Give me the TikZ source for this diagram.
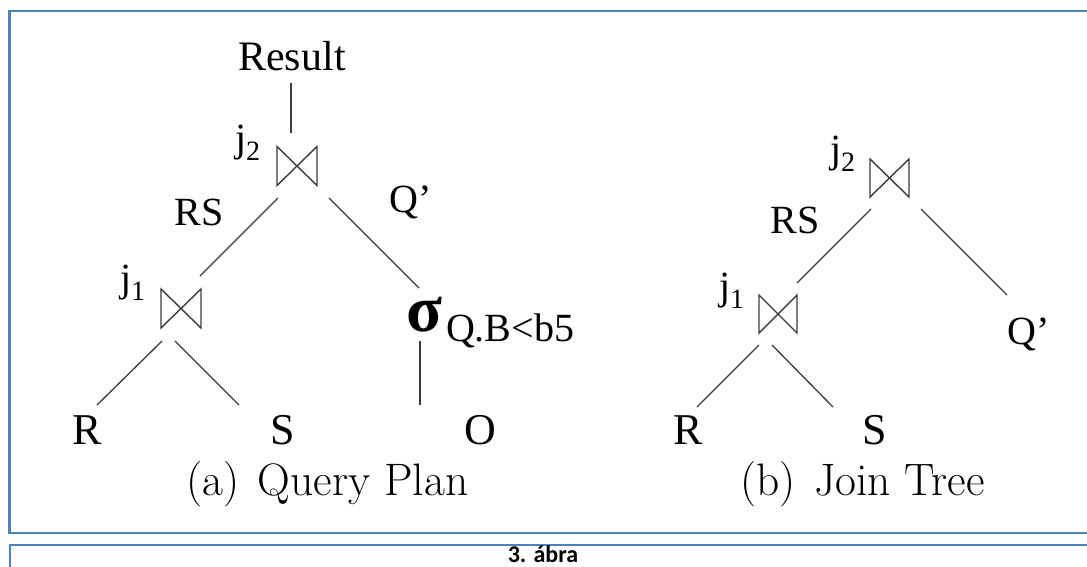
\documentclass[tikz,border=0pt]{standalone}
\usepackage{fontspec}
\newfontfamily\tmsfont{Liberation Serif}
\newfontfamily\calfont{Carlito}
\usetikzlibrary{calc}
\definecolor{boxblue}{RGB}{79,129,189}
\definecolor{edgegray}{RGB}{60,60,60}
\tikzset{
  lbl/.style={inner sep=0pt, outer sep=0pt, anchor=base, font=\tmsfont\fontsize{40}{40}\selectfont},
  leaf/.style={lbl, font=\tmsfont\fontsize{44}{44}\selectfont},
  jlbl/.style={inner sep=0pt, outer sep=0pt, anchor=base west, font=\tmsfont\fontsize{40}{40}\selectfont},
  capt/.style={inner sep=0pt, outer sep=0pt, anchor=base, font=\fontsize{45.5}{45.5}\selectfont},
  joinbox/.style={inner sep=0pt, outer sep=0pt, minimum width=40pt, minimum height=39pt},
  edge/.style={draw=edgegray, line width=1.3pt},
  tie/.style={draw=edgegray, line width=1.4pt, line join=miter},
  frame/.style={draw=boxblue, line width=2.2pt}
}
\newcommand{\jlab}[1]{j\raisebox{-9pt}{\fontsize{28}{28}\selectfont #1}}
\newcommand{\drawtie}[1]{\draw[tie] (#1.north west) -- (#1.south east) -- (#1.north east) -- (#1.south west) -- cycle;}
\begin{document}
\begin{tikzpicture}[x=1pt, y=-1pt]
\useasboundingbox (0,0) rectangle (1087,566);
\clip (0,0) rectangle (1087,566);
\fill[white] (0,0) rectangle (1087,566);
% frames
\draw[frame] (9.5,11) rectangle (1100,533);
\draw[frame] (10,545) rectangle (1100,600);
\node[inner sep=0pt, anchor=base, font=\calfont\bfseries\fontsize{24}{24}\selectfont] (fig) at (543,562) {3. ábra};

% ---------- (a) Query Plan ----------
\node[lbl, font=\tmsfont\fontsize{42}{42}\selectfont] (result) at (292,70) {Result};
\node[joinbox] (j2a) at (297,166) {};
\drawtie{j2a}
\node[jlbl] (j2alab) at (235,151) {\jlab{2}};
\node[joinbox] (j1a) at (181,308.5) {};
\drawtie{j1a}
\node[jlbl] (j1alab) at (120,291) {\jlab{1}};
\node[lbl] (rsa) at (199,225) {RS};
\node[lbl] (qa) at (411,212) {Q’};
\node[inner sep=0pt, outer sep=0pt, anchor=base, font=\tmsfont\bfseries\fontsize{66}{66}\selectfont] (sigma) at (424,331) {σ};
\node[inner sep=0pt, outer sep=0pt, anchor=base west, font=\tmsfont\fontsize{40}{40}\selectfont] (cond) at (446,341) {Q.B<b5};
\node[leaf] (R1) at (87,444) {R};
\node[leaf] (S1) at (283,444) {S};
\node[leaf] (O1) at (480,444) {O};
\draw[edge] ([xshift=-1pt,yshift=-13pt]result.base) -- ([xshift=-6pt,yshift=13.5pt]j2a.north);
\draw[edge] ([xshift=1pt,yshift=-12.5pt]j2a.south west) -- ([xshift=-1pt,yshift=13pt]j1a.north east);
\draw[edge] ([xshift=12pt,yshift=-12.5pt]j2a.south east) -- ([xshift=-5pt,yshift=43pt]sigma.base);
\draw[edge] ([xshift=-4pt,yshift=-10pt]sigma.base) -- ([xshift=-60pt,yshift=39pt]O1.base);
\draw[edge] ([xshift=-19pt,yshift=-13pt]j1a.south) -- ([xshift=10pt,yshift=39pt]R1.base);
\draw[edge] ([xshift=-6pt,yshift=-13pt]j1a.south) -- ([xshift=-44pt,yshift=39pt]S1.base);
\node[capt] (capa) at (327.5,495) {(a)\hspace{0.4em}Query Plan};

% ---------- (b) Join Tree ----------
\node[joinbox, minimum width=39pt, minimum height=38pt] (j2b) at (889.5,178) {};
\drawtie{j2b}
\node[jlbl] (j2blab) at (830,162) {\jlab{2}};
\node[joinbox, minimum width=38pt, minimum height=38pt] (j1b) at (778,314) {};
\drawtie{j1b}
\node[jlbl] (j1blab) at (719,299) {\jlab{1}};
\node[lbl] (rsb) at (795,233) {RS};
\node[lbl] (qb) at (1029,344) {Q’};
\node[leaf] (R2) at (688,444) {R};
\node[leaf] (S2) at (875,444) {S};
\draw[edge] ([xshift=1pt,yshift=-12pt]j2b.south west) -- ([yshift=12pt]j1b.north east);
\draw[edge] ([xshift=12pt,yshift=-12pt]j2b.south east) -- ([xshift=-22pt,yshift=49pt]qb.base);
\draw[edge] ([xshift=-19pt,yshift=-12pt]j1b.south) -- ([xshift=9pt,yshift=37pt]R2.base);
\draw[edge] ([xshift=-6pt,yshift=-12pt]j1b.south) -- ([xshift=-42pt,yshift=37pt]S2.base);
\node[capt] (capb) at (862.5,495) {(b)\hspace{0.4em}Join Tree};
\end{tikzpicture}
\end{document}
